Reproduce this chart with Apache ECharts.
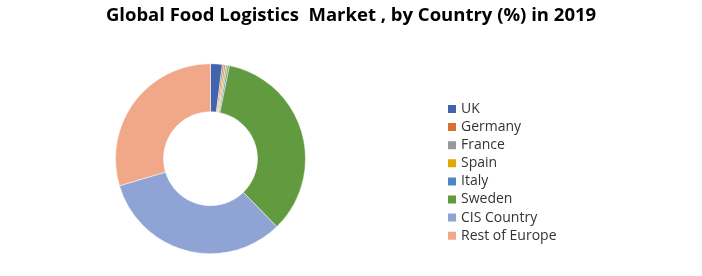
<!DOCTYPE html>
<html><head><meta charset="utf-8">
<script src="https://cdn.jsdelivr.net/npm/echarts@6/dist/echarts.min.js"></script>
<style>html,body{margin:0;padding:0;background:#fff}#c{width:702px;height:276px}</style>
</head><body><div id="c"></div>
<script>
const categories = ["UK","Germany","France","Spain","Italy","Sweden","CIS Country","Rest of Europe"];
const values = [2.0, 0.3, 0.3, 0.3, 0.3, 34.5, 32.7, 29.6];
const colors = ["#3F65B0","#D8702E","#999999","#E0A800","#4E88C4","#629B3F","#8FA4D4","#F0A888"];
const chart = echarts.init(document.getElementById('c'), null, {renderer:'canvas'});
chart.setOption({
  animation:false,
  color: colors,
  title:{text:"Global Food Logistics  Market , by Country (%) in 2019", left:'center', top:1,
    textStyle:{fontFamily:"Open Sans", fontWeight:'bold', fontSize:18.5, color:'#000'}},
  legend:{orient:'vertical', left:441, top:97, height:200, itemWidth:10, itemHeight:10, itemGap:4.1, icon:'rect',
    data:categories,
    textStyle:{fontFamily:"Open Sans", fontSize:14, color:'#333', padding:[0,0,0,-1]}},
  series:[{type:'pie', center:[210.5,158.7], radius:[47,95], startAngle:90, clockwise:true,
    label:{show:false}, labelLine:{show:false}, emphasis:{disabled:true},
    itemStyle:{borderColor:'#fff', borderWidth:0.5},
    data: categories.map((n,i)=>({name:n, value:values[i]}))}]
});
</script></body></html>
